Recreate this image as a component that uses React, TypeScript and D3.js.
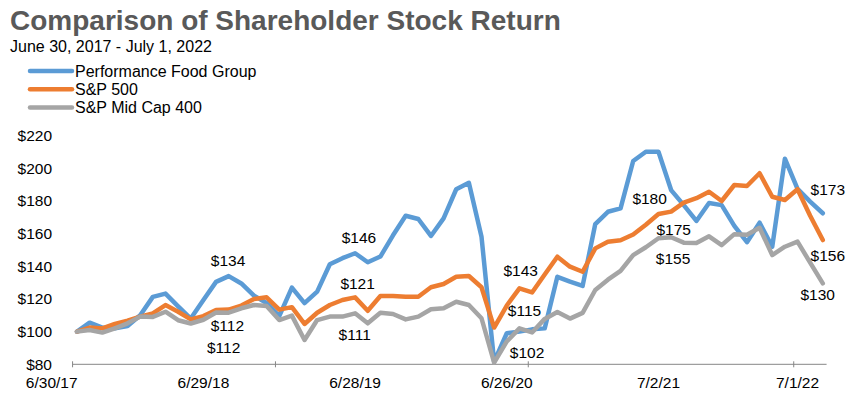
import React from "react";
import * as d3 from "d3";

const seriesNames = ["Performance Food Group", "S&P 500", "S&P Mid Cap 400"];
const seriesColors = ["#5B9BD5", "#ED7D31", "#A5A5A5"];

const pfgValues = [
  100, 105.5, 102.5, 102, 103.5, 110, 121.3, 123.3, 115.5, 108,
  119.4, 130.5, 134, 129.5, 122, 117.5, 109.5, 127, 117.5, 124.5,
  141.3, 145, 148, 142.5, 146, 159, 171, 169, 158.6, 169.4,
  187.2, 191.2, 158.1, 81.6, 99, 100, 101.4, 102, 133.6, 130.6,
  128, 165.9, 173.4, 175.5, 204.5, 210.2, 210.2, 186.7, 177.5, 167.8,
  178.8, 177.5, 164.8, 154.8, 166.7, 152, 205.9, 187.5, 179.6, 172.5,
];
const sp500Values = [
  100, 102.5, 102, 104.7, 106.7, 109.2, 111.2, 116.3, 112.2, 107.5,
  109.5, 113.3, 113.5, 116, 120, 121, 113.5, 115, 104.7, 111.6,
  116.3, 119.4, 121, 112.8, 121.8, 121.8, 121.4, 121.4, 127.2, 129.2,
  133.6, 134.1, 127.2, 102.5, 116, 126.5, 124, 135, 145.9, 139.8,
  136.7, 151, 155.1, 156, 159.5, 165.5, 172, 173.5, 179, 181.7,
  185.7, 180, 189.8, 189.2, 197, 182.6, 180.6, 187.2, 171, 156.1,
];
const midcapValues = [
  100, 101, 99.4, 102, 105.1, 109.2, 109, 112.2, 107, 105,
  107.3, 111.7, 111.6, 114.3, 116.3, 115.7, 107.1, 109.8, 94.9, 107.1,
  109.2, 109.2, 111.2, 105.1, 111.6, 110.8, 107.5, 109.2, 113.7, 114.3,
  118.3, 116.3, 108.2, 81, 94, 102, 99.5, 107.8, 112, 108,
  111.5, 125.5, 131.8, 137.2, 146.9, 151.7, 157.2, 157.8, 154.5, 154.3,
  158.4, 153, 159.7, 159.4, 163.6, 146.9, 152, 155.1, 142.3, 129.6,
];

const yTicks = [80, 100, 120, 140, 160, 180, 200, 220];
const xLabels = ["6/30/17", "6/29/18", "6/28/19", "6/26/20", "7/2/21", "7/1/22"];
const xLabelIndex = [-2, 10, 22, 34, 46, 57];
const xTickIndex = [-0.35, 15.7, 35.7, 56.7];

const annotationText = ["$134", "$112", "$112", "$146", "$121", "$111", "$143", "$115", "$102", "$180", "$175", "$155", "$173", "$156", "$130"];
const annotationIndex = [11.95, 11.9, 11.6, 22.3, 22.2, 21.97, 35.1, 35.4, 35.6, 45.3, 47.2, 47.15, 59.4, 59.4, 58.6];
const annotationValue = [143.4, 103.6, 90.2, 157.8, 129.2, 97.9, 137.3, 112.8, 87.3, 181.7, 162.7, 144.9, 187.3, 146.3, 123];

const FONT = "'Liberation Sans', Arial, Helvetica, sans-serif";

export default function App() {
  const W = 858;
  const H = 401;
  const n = pfgValues.length;
  const x = d3.scaleLinear().domain([0, n - 1]).range([77, 822.8]);
  const y = d3.scaleLinear().domain([80, 220]).range([364.3, 135.7]);
  const line = d3
    .line<number>()
    .x((_, i) => x(i))
    .y((d) => y(d))
    .curve(d3.curveLinear);
  const allSeries = [pfgValues, sp500Values, midcapValues];

  return (
    <div style={{ position: "fixed", left: 0, top: 0, width: W, height: H, background: "#fff" }}>
      <svg width={W} height={H} style={{ display: "block", fontFamily: FONT }}>
        <rect width={W} height={H} fill="#fff" />
        <text x={10} y={30} fontSize={28} fontWeight="bold" fill="#595959">
          Comparison of Shareholder Stock Return
        </text>
        <text x={10} y={52} fontSize={16} fill="#000">
          June 30, 2017 - July 1, 2022
        </text>

        {seriesNames.map((name, k) => (
          <g key={name}>
            <line x1={30} x2={72} y1={71 + k * 18.3} y2={71 + k * 18.3} stroke={seriesColors[k]} strokeWidth={4.5} strokeLinecap="round" />
            <text x={75} y={71 + k * 18.3} dy="0.35em" fontSize={16} fill="#000">
              {name}
            </text>
          </g>
        ))}

        {yTicks.map((t) => (
          <text key={t} x={52} y={y(t)} dy="0.35em" textAnchor="end" fontSize={15.5} fill="#000">
            {"$" + t}
          </text>
        ))}

        <line x1={x(-0.34)} x2={x(59.3)} y1={y(80)} y2={y(80)} stroke="#868686" strokeWidth={1} />
        {xTickIndex.map((t) => (
          <line key={t} x1={x(t)} x2={x(t)} y1={y(80) - 3} y2={y(80) + 3} stroke="#868686" strokeWidth={1} />
        ))}
        {xLabels.map((lab, k) => (
          <text key={lab} x={x(xLabelIndex[k])} y={388} textAnchor="middle" fontSize={15.5} fill="#000">
            {lab}
          </text>
        ))}

        {allSeries.map((vals, k) => (
          <path
            key={seriesNames[k]}
            d={line(vals) || ""}
            fill="none"
            stroke={seriesColors[k]}
            strokeWidth={4.5}
            strokeLinejoin="round"
            strokeLinecap="round"
          />
        ))}

        {annotationText.map((txt, k) => (
          <text
            key={k}
            x={x(annotationIndex[k])}
            y={y(annotationValue[k])}
            dy="0.35em"
            textAnchor="middle"
            fontSize={15.5}
            fill="#000"
          >
            {txt}
          </text>
        ))}
      </svg>
    </div>
  );
}
